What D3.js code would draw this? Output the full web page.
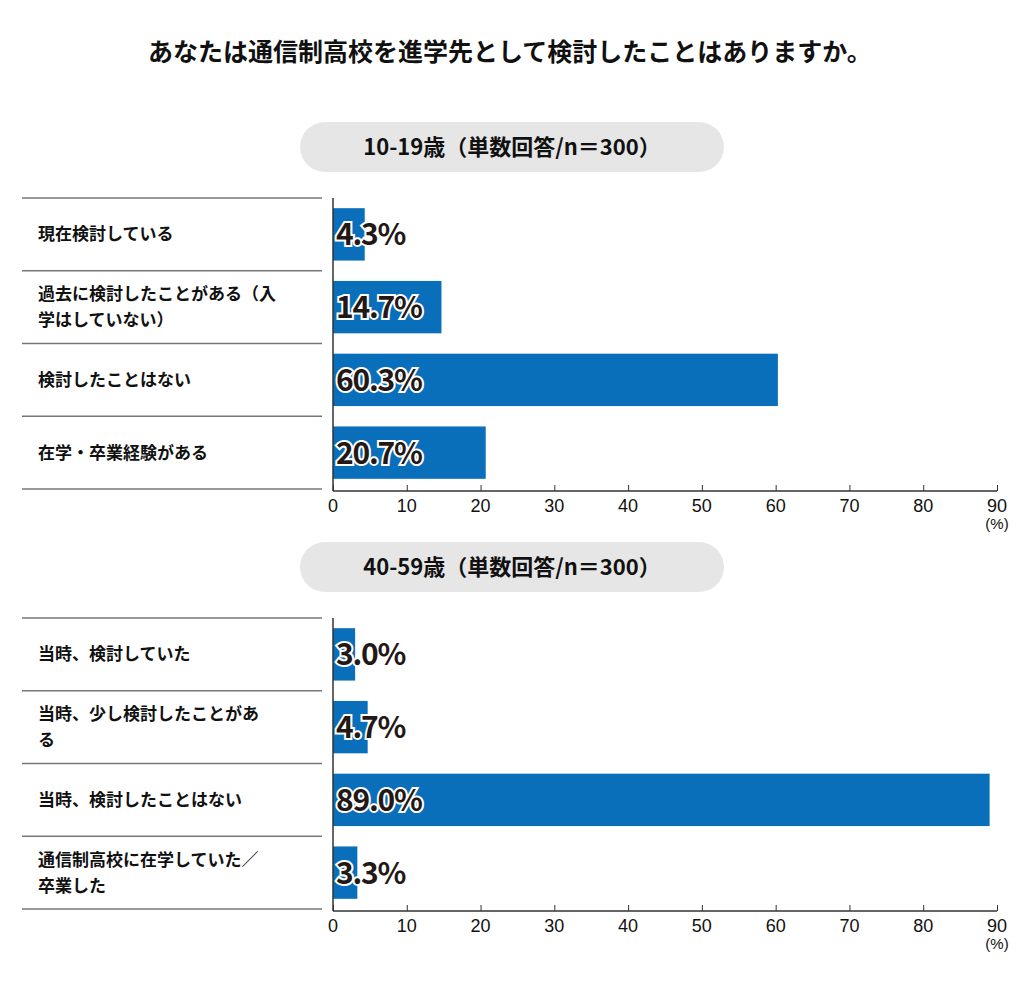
<!DOCTYPE html>
<html><head><meta charset="utf-8">
<script src="https://cdn.jsdelivr.net/npm/d3@7"></script>
<style>
body{margin:0;background:#fff;font-family:"Noto Sans CJK JP","Noto Sans",sans-serif;}
</style></head>
<body><svg id="chart" width="1024" height="981"></svg>
<script>
var title = "あなたは通信制高校を進学先として検討したことはありますか。";
var heads = ["10-19歳（単数回答/n＝300）", "40-59歳（単数回答/n＝300）"];
var cats1 = [["現在検討している"], ["過去に検討したことがある（入", "学はしていない）"], ["検討したことはない"], ["在学・卒業経験がある"]];
var vals1 = [4.3, 14.7, 60.3, 20.7];
var cats2 = [["当時、検討していた"], ["当時、少し検討したことがあ", "る"], ["当時、検討したことはない"], ["通信制高校に在学していた／", "卒業した"]];
var vals2 = [3.0, 4.7, 89.0, 3.3];
var ticks = [0, 10, 20, 30, 40, 50, 60, 70, 80, 90];

var svg = d3.select("#chart");
svg.append("text").attr("x", 510).attr("y", 61).attr("text-anchor", "middle")
   .attr("font-size", 25).attr("font-weight", "bold").attr("fill", "#111").text(title);

var x = d3.scaleLinear().domain([0, 90]).range([333, 997]);
var narrow = "'Liberation Sans Narrow','Liberation Sans',sans-serif";

function panel(top, head, cats, vals) {
  svg.append("rect").attr("x", 300).attr("y", top).attr("width", 424).attr("height", 50)
     .attr("rx", 25).attr("fill", "#e6e6e6");
  svg.append("text").attr("x", 512).attr("y", top + 33).attr("text-anchor", "middle")
     .attr("font-size", 22).attr("font-weight", "bold").attr("fill", "#111").text(head);

  var y0 = top + 76, y1 = top + 367;
  var y = d3.scaleBand().domain(d3.range(cats.length)).range([y0, y1]).paddingInner(0.28).paddingOuter(0.14);
  var step = (y1 - y0) / cats.length;

  d3.range(cats.length + 1).forEach(function(i) {
    svg.append("line").attr("x1", 22).attr("x2", 322).attr("y1", y0 + i * step).attr("y2", y0 + i * step)
       .attr("stroke", "#777").attr("stroke-width", 1.3);
  });

  svg.selectAll(null).data(vals).enter().append("rect")
     .attr("x", x(0)).attr("y", function(d, i) { return y(i); })
     .attr("width", function(d) { return x(d) - x(0); }).attr("height", y.bandwidth())
     .attr("fill", "#0a6fba");

  svg.selectAll(null).data(vals).enter().append("text")
     .attr("x", x(0) + 3).attr("y", function(d, i) { return y(i) + y.bandwidth() / 2 + 11; })
     .attr("font-size", 30).attr("font-weight", "bold").attr("fill", "#231815")
     .attr("stroke", "#fff").attr("stroke-width", 4).attr("paint-order", "stroke")
     .attr("letter-spacing", -1.2)
     .text(function(d) { return d.toFixed(1) + "%"; });

  cats.forEach(function(c, i) {
    var cy = y0 + i * step + step / 2;
    var t = svg.append("text").attr("x", 38).attr("font-size", 17).attr("font-weight", "bold").attr("fill", "#111");
    c.forEach(function(line, j) {
      t.append("tspan").attr("x", 38).attr("y", cy + 6 + (j - (c.length - 1) / 2) * 26).text(line);
    });
  });

  var ax = svg.append("g").attr("transform", "translate(0," + (y1 + 2) + ")")
     .call(d3.axisTop(x).tickValues(ticks).tickSize(6).tickFormat(""));
  ax.select(".domain").attr("stroke", "#333").attr("stroke-width", 1.5).attr("d", "M" + x(0) + ",0H" + x(90));
  ax.selectAll(".tick line").attr("stroke", "#333");
  svg.selectAll(null).data(ticks).enter().append("text")
     .attr("x", function(d) { return x(d); }).attr("y", y1 + 23).attr("text-anchor", "middle")
     .attr("font-family", narrow).attr("font-size", 18).attr("fill", "#111")
     .text(function(d) { return d; });
  svg.append("text").attr("x", x(90)).attr("y", y1 + 40).attr("text-anchor", "middle")
     .attr("font-family", narrow).attr("font-size", 15).attr("fill", "#111").text("(%)");

  svg.append("line").attr("x1", x(0)).attr("x2", x(0)).attr("y1", y0).attr("y2", y1 + 2).attr("stroke", "#333").attr("stroke-width", 1.5);
}

panel(122, heads[0], cats1, vals1);
panel(542, heads[1], cats2, vals2);
</script></body></html>
